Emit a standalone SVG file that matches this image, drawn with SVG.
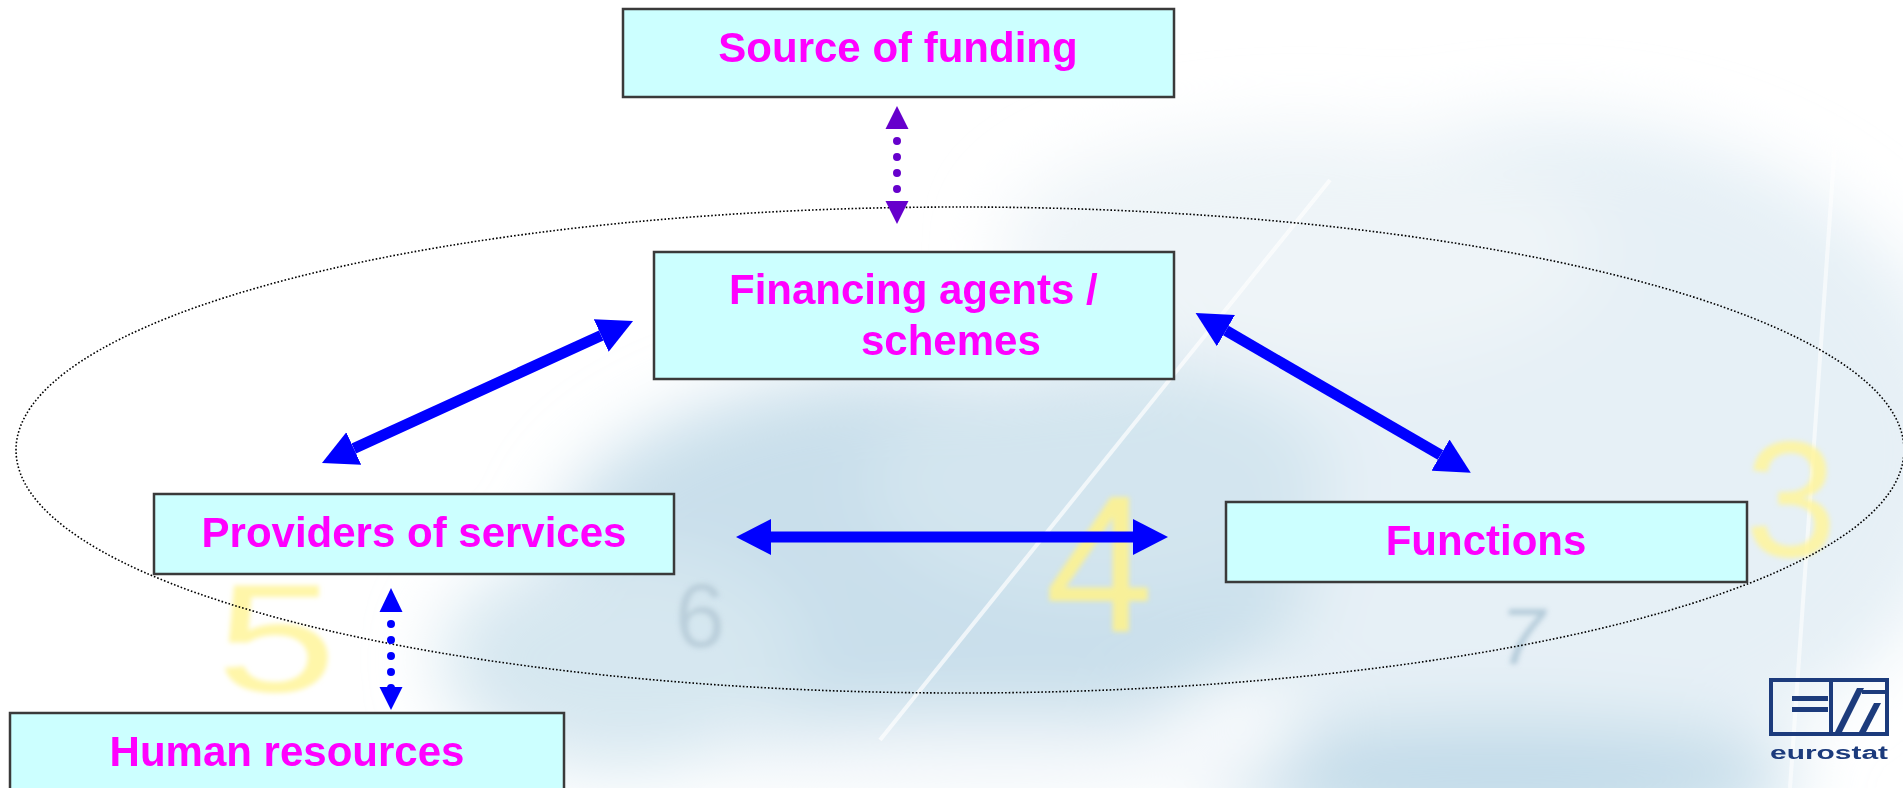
<svg xmlns="http://www.w3.org/2000/svg" width="1903" height="788" viewBox="0 0 1903 788">
<style>
.box{fill:#CCFFFF;stroke:#3a3a3a;stroke-width:2.5}
.lbl{font-family:"Liberation Sans",Arial,sans-serif;font-weight:bold;font-size:42px;fill:#FF00FF}
.mid{text-anchor:middle}
.blue{stroke:#0000FF;stroke-width:11;fill:none}
.dotb{stroke:#0000FF;stroke-width:8;stroke-linecap:round;stroke-dasharray:0 16;fill:none}
.dotp{stroke:#6600CC;stroke-width:8;stroke-linecap:round;stroke-dasharray:0 16;fill:none}
.bgnum{font-family:"Liberation Sans",Arial,sans-serif;}
</style>
<defs>
<marker id="ah" markerUnits="userSpaceOnUse" markerWidth="36" markerHeight="36" refX="0" refY="18" orient="auto-start-reverse">
<path d="M0,0 L35,18 L0,36 z" fill="#0000FF"/>
</marker>
<filter id="blur" x="-50%" y="-50%" width="200%" height="200%"><feGaussianBlur stdDeviation="35"/></filter>
<filter id="blur2" x="-20%" y="-20%" width="140%" height="140%"><feGaussianBlur stdDeviation="2.5"/></filter>
</defs>

<g id="background">
<rect x="0" y="0" width="1903" height="788" fill="#ffffff"/>
<g filter="url(#blur)">
<ellipse cx="1550" cy="450" rx="420" ry="330" fill="#e6f0f6"/>
<ellipse cx="1300" cy="250" rx="300" ry="120" fill="#eef4f8"/>
<ellipse cx="930" cy="560" rx="380" ry="190" fill="#c9dfeb"/>
<ellipse cx="1100" cy="480" rx="230" ry="120" fill="#d3e5ef"/>
<ellipse cx="620" cy="660" rx="180" ry="110" fill="#d6e7f0"/>
<ellipse cx="1500" cy="780" rx="300" ry="60" fill="#c2dbe9"/>
<ellipse cx="1000" cy="760" rx="300" ry="40" fill="#f4f8fb"/>
</g>
<line x1="1330" y1="180" x2="880" y2="740" stroke="#ffffff" stroke-width="4" opacity="0.7"/>
<line x1="1845" y1="0" x2="1790" y2="788" stroke="#ffffff" stroke-width="4" opacity="0.6"/>
<g filter="url(#blur2)">
<text class="bgnum" x="0" y="0" font-size="140" fill="#fff59a" opacity="0.85" transform="translate(216,692) scale(1.55,1.1)">5</text>
<text class="bgnum" x="1045" y="631" font-size="195" fill="#fff28a" opacity="0.85">4</text>
<text class="bgnum" x="1745" y="556" font-size="165" fill="#fff59a" opacity="0.85">3</text>
<text class="bgnum" x="675" y="647" font-size="90" fill="#b4cad6" opacity="0.8">6</text>
<text class="bgnum" x="1500" y="664" font-size="80" font-style="italic" fill="#a9c3d4" opacity="0.8">7</text>
</g>
</g>

<ellipse id="scope" cx="960" cy="450" rx="944" ry="243" fill="none" stroke="#000" stroke-width="1.6" stroke-dasharray="1.6 2"/>

<g id="connectors">
<line class="blue" x1="353.8" y1="448.5" x2="601.2" y2="335.5" marker-start="url(#ah)" marker-end="url(#ah)"/>
<line class="blue" x1="1225.9" y1="330.6" x2="1440.5" y2="455.1" marker-start="url(#ah)" marker-end="url(#ah)"/>
<line class="blue" x1="771" y1="537" x2="1133" y2="537" marker-start="url(#ah)" marker-end="url(#ah)"/>
<g id="funding-link">
<line class="dotp" x1="897" y1="141" x2="897" y2="190"/>
<polygon points="897,106 885.5,129 908.5,129" fill="#6600CC"/>
<polygon points="885.5,201 908.5,201 897,224" fill="#6600CC"/>
</g>
<g id="hr-link">
<line class="dotb" x1="391" y1="624" x2="391" y2="689"/>
<polygon points="391,588 379.5,612 402.5,612" fill="#0000FF"/>
<polygon points="379.5,687 402.5,687 391,710" fill="#0000FF"/>
</g>
</g>

<g id="source">
<rect class="box" x="623" y="9" width="551" height="88"/>
<text class="lbl mid" x="898" y="62">Source of funding</text>
</g>
<g id="financing">
<rect class="box" x="654" y="252" width="520" height="127"/>
<text class="lbl" x="729" y="304">Financing agents /</text>
<text class="lbl" x="861" y="355">schemes</text>
</g>
<g id="providers">
<rect class="box" x="154" y="494" width="520" height="80"/>
<text class="lbl mid" x="414" y="547">Providers of services</text>
</g>
<g id="functions">
<rect class="box" x="1226" y="502" width="521" height="80"/>
<text class="lbl mid" x="1486" y="555">Functions</text>
</g>
<g id="human">
<rect class="box" x="10" y="713" width="554" height="90"/>
<text class="lbl mid" x="287" y="766">Human resources</text>
</g>

<g id="logo" fill="#1c3b7c" stroke="none">
<rect x="1771" y="680" width="116" height="54" fill="none" stroke="#1c3b7c" stroke-width="4"/>
<rect x="1792" y="696" width="36" height="5"/>
<rect x="1792" y="707" width="36" height="5"/>
<rect x="1829" y="680" width="4" height="54"/>
<polygon points="1835,732 1842,732 1864,688 1857,688"/>
<polygon points="1859,732 1866,732 1881,703 1874,703"/>
<rect x="1862" y="690" width="25" height="4"/>
<text x="1770" y="759" font-family="'Liberation Sans Narrow','Liberation Sans',Arial,sans-serif" font-weight="bold" font-size="18" textLength="118" lengthAdjust="spacingAndGlyphs">eurostat</text>
</g>
</svg>
